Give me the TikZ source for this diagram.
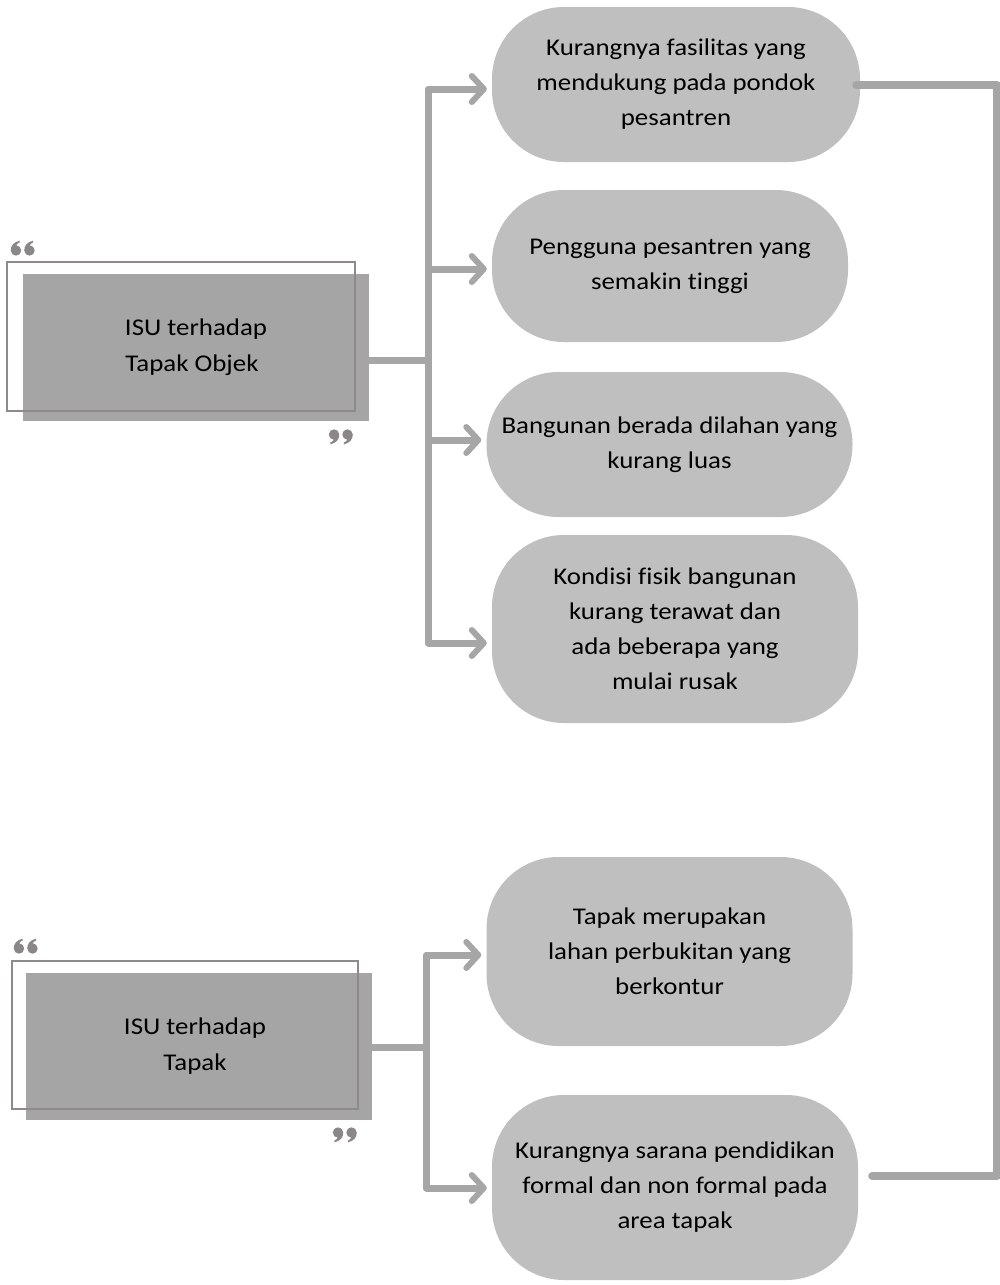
\documentclass[tikz,border=0pt]{standalone}
\usepackage{fontspec}
\setmainfont[FakeStretch=1.12,Ligatures=NoCommon]{Carlito}
\usetikzlibrary{arrows.meta}
\definecolor{connc}{HTML}{A6A6A6}
\definecolor{pillc}{HTML}{BFBFBF}
\definecolor{boxc}{HTML}{A5A5A5}
\definecolor{framec}{HTML}{8F8A8A}
\definecolor{quotec}{HTML}{8C8787}
\begin{document}
\begin{tikzpicture}[x=1pt,y=-1pt,
  pill/.style={fill=pillc, rounded corners=72pt, align=center, inner sep=0pt,
    font=\fontsize{24}{35}\selectfont},
  isubox/.style={fill=boxc, align=center, inner sep=0pt,
    font=\fontsize{24}{36}\selectfont},
  frame/.style={draw=framec, line width=2.5pt},
  qsix/.pic={
    \fill[quotec] (0,0) circle (5.2pt);
    \fill[quotec] (-5.2,0.5) .. controls (-5.6,-5) and (-2,-8.5) .. (3.5,-9.8)
      -- (3.8,-8.2) .. controls (0.8,-7) and (-0.5,-4.5) .. (0.5,-2.5) -- cycle;
  },
  conn/.style={draw=connc, line width=7pt, line cap=round, line join=round},
  arr/.style={conn, shorten >=5pt, -{Straight Barb[length=12pt,width=26pt,line width=6pt,round]}}]
\useasboundingbox (0,0) rectangle (1000,1285);

% right-hand items
\node[pill, minimum width=368pt, minimum height=155pt] (n1) at (676,84.5)
  {Kurangnya fasilitas yang\\mendukung pada pondok\\pesantren};
\node[pill, minimum width=356pt, minimum height=152pt] (n2) at (670,266)
  {Pengguna pesantren yang\\semakin tinggi};
\node[pill, minimum width=366pt, minimum height=145pt] (n3) at (669.5,444.5)
  {Bangunan berada dilahan yang\\kurang luas};
\node[pill, minimum width=366pt, minimum height=188pt] (n4) at (675,629)
  {Kondisi fisik bangunan\\kurang terawat dan\\ada beberapa yang\\mulai rusak};
\node[pill, minimum width=366pt, minimum height=189pt] (n5) at (669.5,951.5)
  {Tapak merupakan\\lahan perbukitan yang\\berkontur};
\node[pill, minimum width=366pt, minimum height=185pt] (n6) at (675,1187.5)
  {Kurangnya sarana pendidikan\\formal dan non formal pada\\area tapak};

% left boxes
\node[isubox, minimum width=346pt, minimum height=147pt] (b1) at (196,347.5)
  {ISU terhadap\\Tapak Objek\hspace*{8pt}};
\draw[frame] (7,262) rectangle (355,411);
\pic at (16,250.5) {qsix};
\pic at (29.5,250.5) {qsix};
\pic[rotate=180] at (334,434.5) {qsix};
\pic[rotate=180] at (347.5,434.5) {qsix};

\node[isubox, minimum width=346pt, minimum height=147pt] (b2) at (199,1046.5)
  {ISU terhadap\hspace*{8pt}\\Tapak\hspace*{8pt}};
\draw[frame] (12,961) rectangle (358,1109);
\pic at (19,948.5) {qsix};
\pic at (32.5,948.5) {qsix};
\pic[rotate=180] at (338,1132.5) {qsix};
\pic[rotate=180] at (351.5,1132.5) {qsix};

% connectors, upper group
\coordinate (j1) at (428,360);
\foreach \n/\yy in {n1/89,n2/269,n3/440,n4/643}
  \draw[arr] (b1.east |- j1) -- (j1) |- (\n.west |- 0,\yy);

% connectors, lower group
\coordinate (j2) at (426,1047);
\foreach \n/\yy in {n5/955,n6/1188}
  \draw[arr] (b2.east |- j2) -- (j2) |- (\n.west |- 0,\yy);

% right return line
\coordinate (r1) at (997,85);
\coordinate (r2) at (997,1176);
\draw[conn, line width=8pt, shorten <=-4pt, shorten >=14pt]
  (n1.east |- r1) -- (r1) -- (r2) -- (n6.east |- r2);
\end{tikzpicture}
\end{document}
